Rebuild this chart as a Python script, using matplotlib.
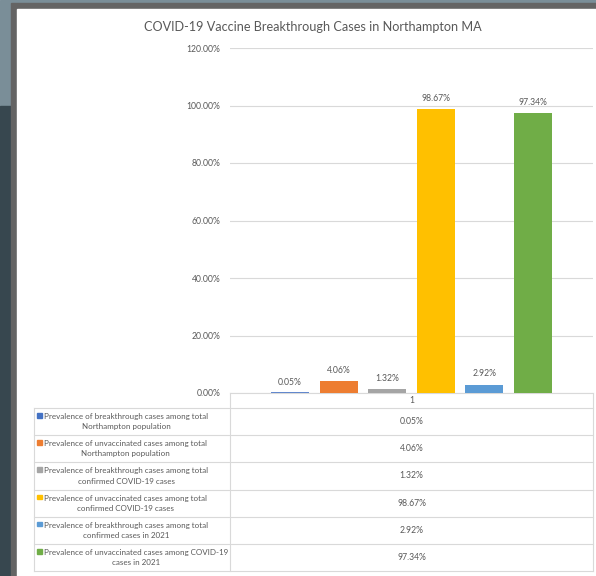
import matplotlib
matplotlib.use("Agg")
import matplotlib.pyplot as plt
from matplotlib.patches import Rectangle

# data
labels = [
    "Prevalence of breakthrough cases among total\nNorthampton population",
    "Prevalence of unvaccinated cases among total\nNorthampton population",
    "Prevalence of breakthrough cases among total\nconfirmed COVID-19 cases",
    "Prevalence of unvaccinated cases among total\nconfirmed COVID-19 cases",
    "Prevalence of breakthrough cases among total\nconfirmed cases in 2021",
    "Prevalence of unvaccinated cases among COVID-19\ncases in 2021",
]
values = [0.0005, 0.0406, 0.0132, 0.9867, 0.0292, 0.9734]
value_text = ["0.05%", "4.06%", "1.32%", "98.67%", "2.92%", "97.34%"]
colors = ["#4472C4", "#ED7D31", "#A5A5A5", "#FFC000", "#5B9BD5", "#70AD47"]
yticks = [0, 0.2, 0.4, 0.6, 0.8, 1.0, 1.2]
category = "1"
title = "COVID-19 Vaccine Breakthrough Cases in Northampton MA"

W, H = 596, 576
plt.rcParams['font.family'] = ['Lato', 'DejaVu Sans']
fig = plt.figure(figsize=(W/100, H/100), dpi=100)

# background / window frame, in pixel coords
bg = fig.add_axes([0, 0, 1, 1])
bg.set_xlim(0, W)
bg.set_ylim(H, 0)
bg.axis("off")
bg.add_patch(Rectangle((0, 0), W, H, color="#7a8e98", zorder=0))
bg.add_patch(Rectangle((0, 106), 11, H, color="#37474f", zorder=1))
bg.add_patch(Rectangle((11, 3), W, H, color="#646464", zorder=2))
bg.add_patch(Rectangle((17, 9), W, H, color="white", zorder=3))

bg.text(313, 27, title, ha="center", va="center", fontsize=9.1,
        color="#595959", zorder=5)

grid_c = "#d9d9d9"
txt_c = "#595959"
left, right, top, bottom = 230, 593, 48, 393

ax = fig.add_axes([left/W, 1-bottom/H, (right-left)/W, (bottom-top)/H])
ax.set_zorder(4)
ax.patch.set_alpha(0)
x = list(range(len(values)))
# tiny bars still get a hairline, like Excel draws them
ax.bar(x, values, width=0.79, color=colors, edgecolor=colors,
       linewidth=[1.2 if v < 0.005 else 0 for v in values], zorder=3)
for xi, v, t in zip(x, values, value_text):
    ax.text(xi, v + 0.022, t, ha="center", va="bottom", fontsize=6.2, color=txt_c)
ax.set_xlim(-1.24, 6.24)
ax.set_ylim(0, 1.2)
ax.set_yticks(yticks)
ax.set_yticklabels(["%.2f%%" % (t*100) for t in yticks], fontsize=6.2, color=txt_c)
ax.tick_params(axis="y", length=0, pad=7)
ax.set_xticks([])
ax.grid(axis="y", color=grid_c, lw=0.8, zorder=0)
for s in ax.spines.values():
    s.set_visible(False)

# data table below the plot
row_top = 408
row_h = 27.2
rows_y = [row_top + row_h*i for i in range(len(values)+1)]
lc = "#d9d9d9"
bg.plot([left, right], [bottom, bottom], color=lc, lw=0.8, zorder=5)
bg.plot([left, left], [bottom, rows_y[-1]], color=lc, lw=0.8, zorder=5)
bg.plot([right, right], [bottom, rows_y[-1]], color=lc, lw=0.8, zorder=5)
bg.plot([34, 34], [row_top, rows_y[-1]], color=lc, lw=0.8, zorder=5)
for yy in rows_y:
    bg.plot([34, right], [yy, yy], color=lc, lw=0.8, zorder=5)
bg.text((left+right)/2, (bottom+row_top)/2, category, ha="center", va="center",
        fontsize=6.2, color=txt_c, zorder=6)
for i, (lab, col, t) in enumerate(zip(labels, colors, value_text)):
    cy = rows_y[i] + row_h/2
    bg.text(44, cy, lab, ha="left", va="center", multialignment="center",
            fontsize=5.8, color=txt_c, linespacing=1.55, zorder=6)
    bg.add_patch(Rectangle((37, rows_y[i] + 5), 4.5, 4.5, color=col, zorder=6))
    bg.text((left+right)/2, cy, t, ha="center", va="center", fontsize=6.2,
            color=txt_c, zorder=6)

fig.savefig("out.png", dpi=100)
